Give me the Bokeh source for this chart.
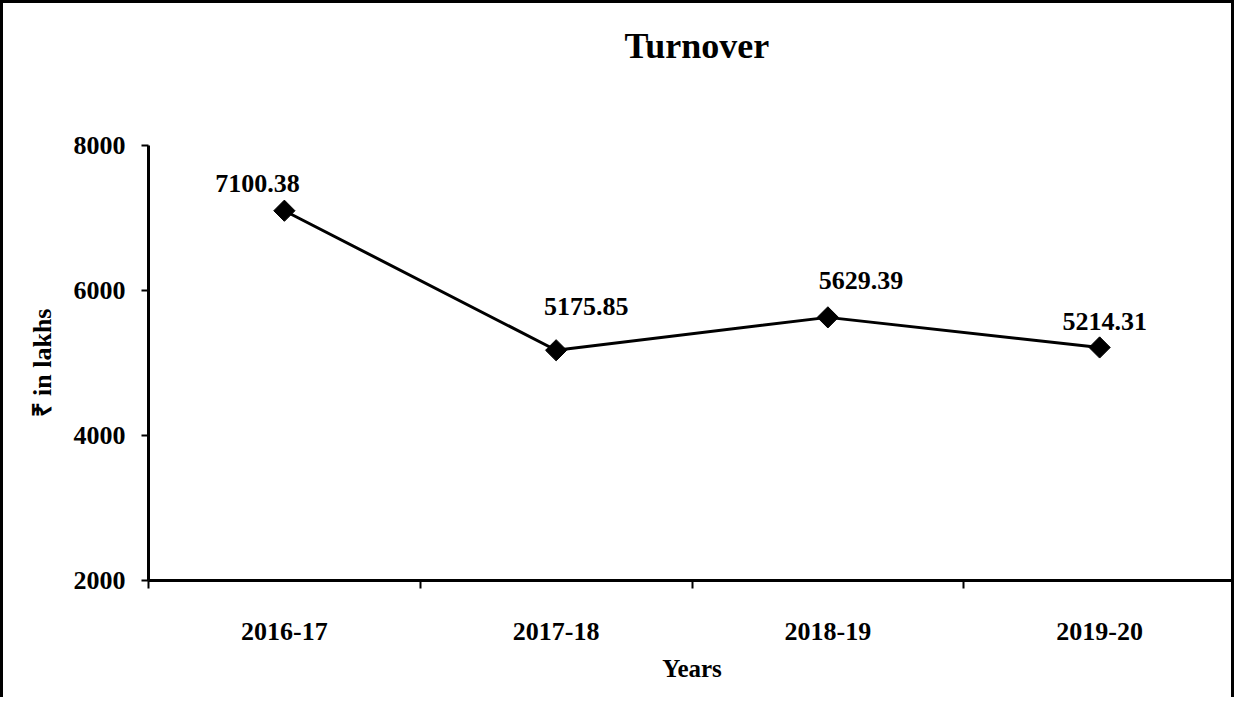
from bokeh.plotting import figure
from bokeh.models import Range1d, FixedTicker, ColumnDataSource, Title
from bokeh.embed import file_html
from bokeh.resources import INLINE
import numpy as np

title_text = "Turnover"
years = ["2016-17", "2017-18", "2018-19", "2019-20"]
turnover = [7100.38, 5175.85, 5629.39, 5214.31]
y_ticks = [2000, 4000, 6000, 8000]

# label placement (style, screen pixels; negative = upward)
lab_dx = [-27, 30, 33, 5]
lab_dy = [-27, -44, -37, -26]

FONT = "Liberation Serif"
Y_MIN, Y_MAX = y_ticks[0], y_ticks[-1]

xpos = [i + 0.5 for i in range(len(years))]
src = ColumnDataSource(dict(
    x=xpos, y=turnover,
    lab=[f"{v:.2f}" for v in turnover],
    dx=lab_dx, dy=lab_dy,
))

p = figure(width=1234, height=697, output_backend="svg", toolbar_location=None,
           x_range=Range1d(0, len(years)), y_range=Range1d(Y_MIN, Y_MAX),
           min_border_left=145, min_border_right=2, min_border_top=142,
           min_border_bottom=120)
p.styles = {"border-top": "3px solid black", "border-left": "3px solid black",
            "border-right": "3px solid black"}

p.outline_line_color = None
p.grid.visible = False
p.background_fill_color = "white"
p.border_fill_color = "white"

# spacer (nearest the frame) then the real title further out
p.add_layout(Title(text=" ", text_font_size="1px", standoff=77), "above")
p.add_layout(Title(text=title_text, align="left", offset=476, standoff=0,
                   text_font=FONT, text_font_size="36px",
                   text_font_style="bold", text_color="black"), "above")

# x axis
xa = p.xaxis[0]
xa.ticker = FixedTicker(ticks=xpos, minor_ticks=list(range(len(years) + 1)))
xa.major_label_overrides = {x: y for x, y in zip(xpos, years)}
xa.major_tick_out = 0
xa.major_tick_in = 0
xa.minor_tick_out = 8
xa.minor_tick_in = 0
xa.minor_tick_line_width = 2
xa.minor_tick_line_color = "black"
xa.axis_line_width = 3
xa.axis_line_color = "black"
xa.major_label_standoff = 34
xa.major_label_text_font = FONT
xa.major_label_text_font_size = "26px"
xa.major_label_text_font_style = "bold"
xa.major_label_text_color = "black"
xa.axis_label = "Years"
xa.axis_label_text_font = FONT
xa.axis_label_text_font_size = "25px"
xa.axis_label_text_font_style = "bold"
xa.axis_label_text_color = "black"
xa.axis_label_standoff = 12

# y axis
ya = p.yaxis[0]
ya.ticker = FixedTicker(ticks=y_ticks, minor_ticks=[])
ya.major_tick_out = 7
ya.major_tick_in = 0
ya.major_tick_line_width = 2
ya.major_tick_line_color = "black"
ya.axis_line_width = 3
ya.axis_line_color = "black"
ya.major_label_standoff = 16
ya.major_label_text_font = FONT
ya.major_label_text_font_size = "26px"
ya.major_label_text_font_style = "bold"
ya.major_label_text_color = "black"
ya.axis_label = "₹ in lakhs"
ya.axis_label_text_font = FONT
ya.axis_label_text_font_size = "26px"
ya.axis_label_text_font_style = "bold"
ya.axis_label_text_color = "black"
ya.axis_label_standoff = 14

p.line("x", "y", source=src, line_color="black", line_width=3)
p.scatter("x", "y", source=src, marker="square", angle=np.pi / 4, size=15,
          fill_color="black", line_color="black")
p.text("x", "y", text="lab", source=src, x_offset="dx", y_offset="dy",
       text_align="center", text_baseline="alphabetic",
       text_font={"value": FONT}, text_font_size="26px", text_font_style="bold",
       text_color="black")

open("out.html", "w").write(file_html(p, INLINE))
